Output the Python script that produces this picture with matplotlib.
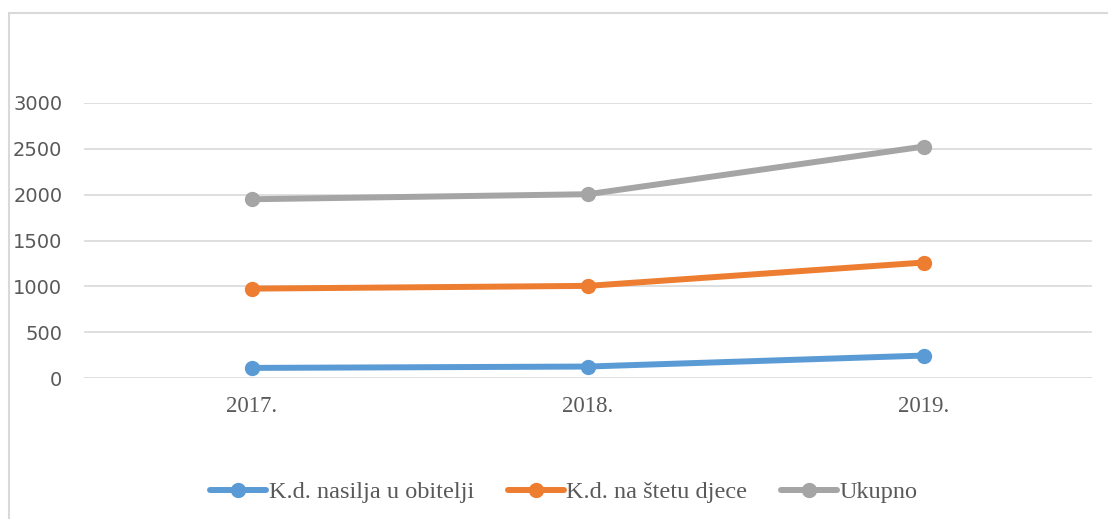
import numpy as np
import matplotlib.pyplot as plt
from matplotlib.patches import Rectangle

# PODACI

godine = ["2017.", "2018.", "2019."]
nasilje_obitelj = [110, 125, 245]
steta_djece = [975, 1005, 1260]
ukupno = [1950, 2005, 2525]

serije = [
    ("K.d. nasilja u obitelji", nasilje_obitelj, "#5b9bd5"),
    ("K.d. na štetu djece", steta_djece, "#ed7d31"),
    ("Ukupno", ukupno, "#a5a5a5"),
]

# GRAFIKON

fig = plt.figure(figsize=(11.08, 5.19), dpi=100)
ax = fig.add_axes([84 / 1108, 1 - 378 / 519, 1008 / 1108, 275 / 519])

x = np.arange(len(godine))
for naziv, vrijednosti, boja in serije:
    ax.plot(x, vrijednosti, color=boja, lw=4.3, marker="o", markersize=10,
            label=naziv, solid_capstyle="round", zorder=3)

ax.set_xlim(-0.5, 2.5)
ax.set_ylim(0, 3000)
ax.set_yticks(np.arange(0, 3001, 500))
ax.set_xticks(x)
ax.set_xticklabels(godine, family="Liberation Serif", fontsize=16.5, color="#595959")
ax.tick_params(axis="y", labelsize=14, labelcolor="#595959", length=0, pad=15.5)
ax.tick_params(axis="x", length=0, pad=13)
ax.grid(axis="y", color="#d9d9d9", lw=1.2, zorder=0)
for s in ax.spines.values():
    s.set_visible(False)

# okvir
fig.patches.append(Rectangle((9 / 1108, -0.1), 1.2, 1.1 - 13 / 519,
                             transform=fig.transFigure, fill=False,
                             edgecolor="#d9d9d9", lw=1.5))

fig.legend(loc="center", bbox_to_anchor=(564 / 1108, 1 - 492 / 519), ncol=3,
           frameon=False, prop={"family": "Liberation Serif", "size": 17.5},
           labelcolor="#595959", handlelength=2.3, handletextpad=0.1,
           columnspacing=1.4)

fig.savefig("out.png", dpi=100)
